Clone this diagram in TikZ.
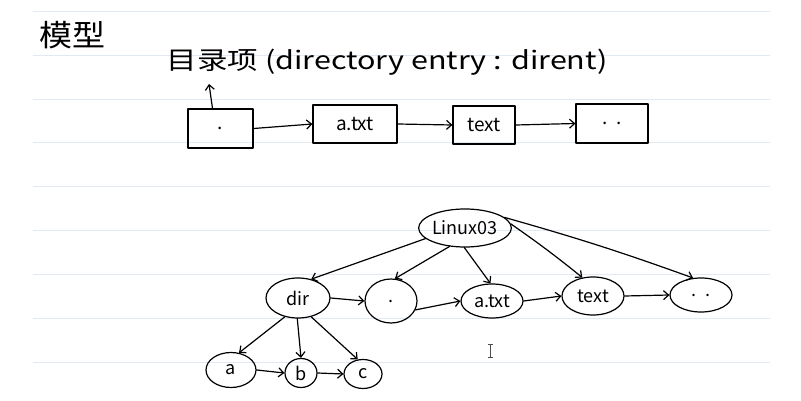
\documentclass[tikz,border=0pt]{standalone}
\usepackage{fontspec}
\setmainfont{Noto Sans CJK SC}
\usetikzlibrary{shapes.geometric,arrows.meta}
\definecolor{rulecol}{RGB}{226,233,240}
\begin{document}
\begin{tikzpicture}[x=1pt,y=-1pt,
  ink/.style={line width=1.2pt,black,line cap=round,line join=round},
  arr/.style={ink,-{Straight Barb[length=5pt,width=9pt]}},
  rulel/.style={draw=rulecol,line width=0.9pt},
  entrybox/.style={draw,ink,inner sep=0pt,font=\fontsize{19}{19}\selectfont},
  ell/.style={ellipse,draw,ink,inner sep=0pt,font=\fontsize{18}{18}\selectfont}]
\useasboundingbox[fill=white] (0,0) rectangle (801,401);
% ruled lines
\foreach \yy in {11,55,99,142,186,230,274,318,362}
  \draw[rulel] (33,\yy) -- (770,\yy);
% title
\node (title) at (72,35) {\fontsize{30}{30}\selectfont\scalebox{1.1}[1]{模型}};
\node (label) at (387,62) {\fontsize{25}{25}\selectfont\scalebox{1.22}[1]{目录项 (directory entry : dirent)}};
% entry boxes
\node[entrybox,minimum width=65pt,minimum height=39pt] (b1) at (220.5,128.5) {.};
\node[entrybox,minimum width=84pt,minimum height=38pt] (b2) at (355,124) {a.txt};
\node[entrybox,minimum width=62pt,minimum height=38pt] (b3) at (484,125) {text};
\node[entrybox,minimum width=72pt,minimum height=39pt] (b4) at (612,123.5) {.\ \ .};
\coordinate (lblpt) at (209,84);
\draw[arr] ([xshift=-8pt]b1.north) -- (lblpt);
\draw[arr] (b1.east) -- (b2.west);
\draw[arr] (b2.east) -- (b3.west);
\draw[arr] (b3.east) -- (b4.west);
% tree
\node[ell,minimum width=80pt,minimum height=38pt] (L) at (465,228) {Linux03};
\node[ell,minimum width=64pt,minimum height=40pt] (dir) at (298,298) {dir};
\node[ell,minimum width=52pt,minimum height=44pt] (dot) at (391,301) {.};
\node[ell,minimum width=62pt,minimum height=34pt] (atxt) at (492,301) {a.txt};
\node[ell,minimum width=62pt,minimum height=38pt] (text) at (593,296) {text};
\node[ell,minimum width=62pt,minimum height=34pt] (dd) at (701,295) {.\ \ .};
\node[ell,minimum width=50pt,minimum height=35pt] (a) at (231,370) {a};
\node[ell,minimum width=32pt,minimum height=29pt] (b) at (301,373) {b};
\node[ell,minimum width=38pt,minimum height=29pt] (c) at (363,374) {c};
\draw[arr] (L.195) -- (dir.55);
\draw[arr] (L.230) -- (dot.80);
\draw[arr] (L.268) -- (atxt.95);
\draw[arr] (L.5) to[bend left=2] (text.120);
\draw[arr] (L.15) to[bend left=2] (dd.115);
\draw[arr] (dir.east) -- (dot.west);
\draw[arr] (dot.-20) -- (atxt.west);
\draw[arr] (atxt.east) -- (text.west);
\draw[arr] (text.east) -- (dd.west);
\draw[arr] (dir.235) -- (a.65);
\draw[arr] (dir.268) -- (b.north);
\draw[arr] (dir.-55) -- (c.110);
\draw[arr] (a.east) -- (b.west);
\draw[arr] (b.east) -- (c.west);
% text cursor
\draw[line width=0.8pt,black!70] (490,344) -- (490,357) (487.5,344) -- (492.5,344) (487.5,357) -- (492.5,357);
\end{tikzpicture}
\end{document}
